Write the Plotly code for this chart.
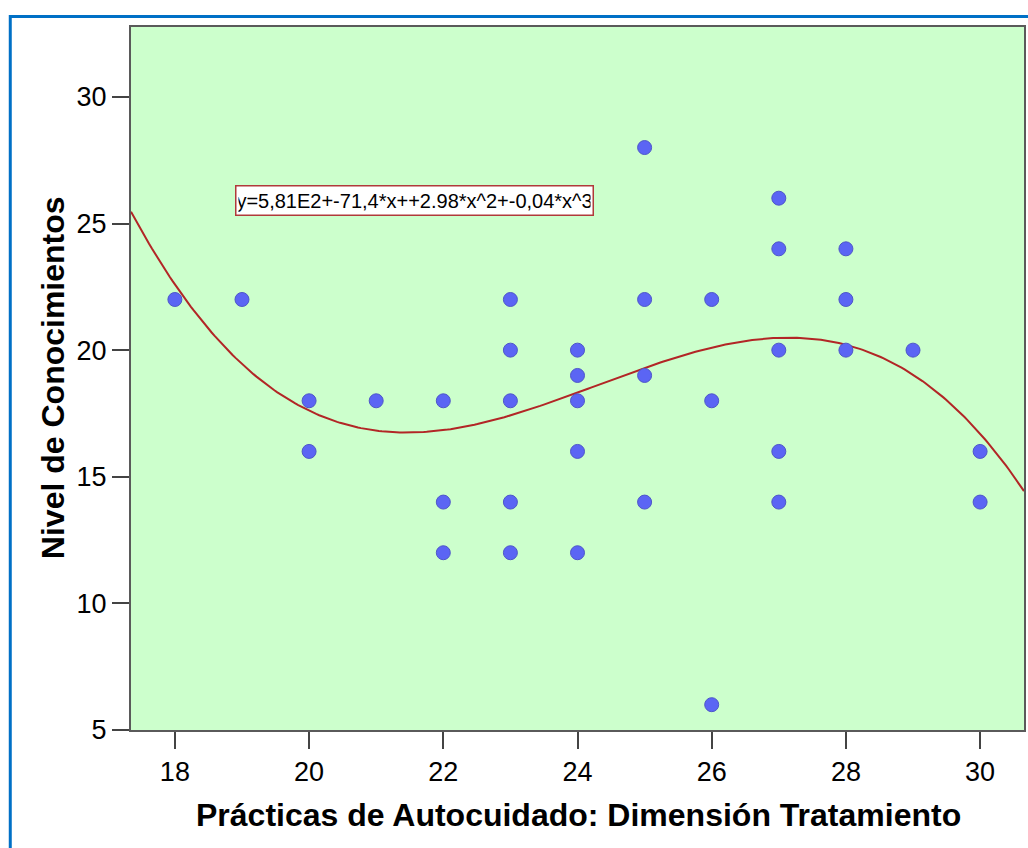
import numpy as np
import plotly.graph_objects as go

# Data
practicas = [18, 19, 20, 20, 21, 22, 22, 22,
             23, 23, 23, 23, 23,
             24, 24, 24, 24, 24,
             25, 25, 25, 25,
             26, 26, 26,
             27, 27, 27, 27, 27,
             28, 28, 28, 29, 30, 30]
conocimientos = [22, 22, 18, 16, 18, 18, 14, 12,
                 22, 20, 18, 14, 12,
                 20, 19, 18, 16, 12,
                 28, 22, 19, 14,
                 22, 18, 6,
                 26, 24, 20, 16, 14,
                 24, 22, 20, 20, 16, 14]

# Cubic fit line coefficients (y = c0 + c1 x + c2 x^2 + c3 x^3)
c0, c1, c2, c3 = 580.31, -71.323, 2.9758, -0.04082
fit_label = "y=5,81E2+-71,4*x++2.98*x^2+-0,04*x^3"

x_range = [17.346, 30.654]
y_range = [5, 32.76]
x_ticks = [18, 20, 22, 24, 26, 28, 30]
y_ticks = [5, 10, 15, 20, 25, 30]

xs = np.linspace(x_range[0], x_range[1], 300)
ys = c0 + c1 * xs + c2 * xs ** 2 + c3 * xs ** 3

fig = go.Figure()
fig.add_trace(go.Scatter(
    x=xs, y=ys, mode="lines",
    line=dict(color="#B22626", width=2),
    hoverinfo="skip", showlegend=False))
fig.add_trace(go.Scatter(
    x=practicas, y=conocimientos, mode="markers",
    marker=dict(size=14, color="#5B65F4", line=dict(color="#4E56C9", width=1)),
    showlegend=False))

font_family = "Liberation Sans, Arial, sans-serif"

fig.update_layout(
    width=1028, height=848, autosize=False,
    margin=dict(l=131, r=2, t=27, b=118),
    paper_bgcolor="white",
    plot_bgcolor="#CCFFCC",
    font=dict(family=font_family, color="black"),
    xaxis=dict(range=x_range, tickvals=x_ticks, ticks="outside", ticklen=17,
               tickwidth=2, tickcolor="#444444", showline=True, mirror=True,
               linecolor="#5A5A5A", linewidth=2, showgrid=False, zeroline=False,
               tickfont=dict(size=27, family=font_family, color="black")),
    yaxis=dict(range=y_range, tickvals=y_ticks, ticks="outside", ticklen=17,
               tickwidth=2, tickcolor="#444444", showline=True, mirror=True,
               linecolor="#5A5A5A", linewidth=2, showgrid=False, zeroline=False,
               tickfont=dict(size=27, family=font_family, color="black")),
    shapes=[dict(type="rect", xref="paper", yref="paper",
                 x0=-0.1352, x1=1.05, y0=-0.25, y1=1.01494,
                 line=dict(color="#0070C6", width=3), layer="below")],
    annotations=[
        dict(text="Prácticas de Autocuidado: Dimensión Tratamiento",
             xref="paper", yref="paper", x=0.5006, y=-0.1209,
             xanchor="center", yanchor="middle", showarrow=False,
             font=dict(size=32, family=font_family, color="black", weight="bold")),
        dict(text="Nivel de Conocimientos",
             xref="paper", yref="paper", x=-0.0872, y=0.5007, textangle=-90,
             xanchor="center", yanchor="middle", showarrow=False,
             font=dict(size=32, family=font_family, color="black", weight="bold")),
        dict(text=fit_label, xref="paper", yref="paper", x=0.3173, y=0.7525,
             xanchor="center", yanchor="middle", showarrow=False,
             bgcolor="white", bordercolor="#B03A3A", borderwidth=1.5, borderpad=2,
             width=352, height=24,
             font=dict(size=20, family=font_family, color="black")),
    ],
)

fig.write_html("out.html")
